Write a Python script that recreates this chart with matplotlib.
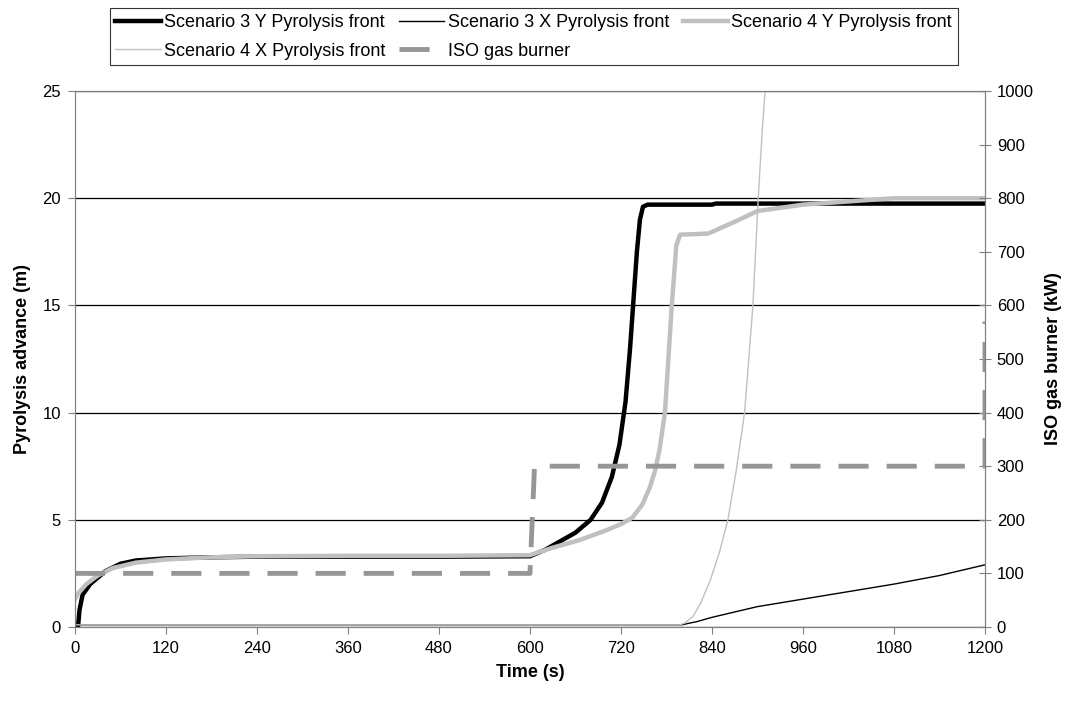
import matplotlib

matplotlib.use("Agg")

import matplotlib.pyplot as plt
import numpy as np

plt.rcParams["font.family"] = ["Liberation Sans", "DejaVu Sans"]
plt.rcParams["font.size"] = 12

# Scenario 3, Y direction pyrolysis front (m)
s3y_t = [4, 6, 10, 20, 40, 60, 80, 120, 180, 240, 360, 480, 600, 620, 640, 660,
         680, 695, 708, 718, 726, 732, 737, 741, 745, 749, 755, 840, 845, 1200]
s3y_v = [0.0, 0.8, 1.5, 2.0, 2.6, 2.95, 3.1, 3.2, 3.25, 3.28, 3.28, 3.28, 3.3, 3.6,
         4.0, 4.4, 5.0, 5.8, 7.0, 8.5, 10.5, 13.0, 15.5, 17.5, 19.0, 19.6, 19.7,
         19.7, 19.75, 19.75]

# Scenario 3, X direction pyrolysis front (m)
s3x_t = [0, 200, 400, 600, 800, 820, 840, 870, 900, 960, 1020, 1080, 1140, 1200]
s3x_v = [0.1, 0.1, 0.1, 0.1, 0.1, 0.25, 0.45, 0.7, 0.95, 1.3, 1.65, 2.0, 2.4, 2.9]

# Scenario 4, Y direction pyrolysis front (m)
s4y_t = [0, 5, 15, 30, 50, 80, 120, 180, 240, 360, 480, 600, 630, 665, 700, 720,
         735, 748, 758, 765, 771, 778, 787, 793, 798, 835, 870, 900, 960, 1020,
         1080, 1200]
s4y_v = [1.3, 1.6, 2.0, 2.4, 2.75, 3.0, 3.15, 3.25, 3.3, 3.32, 3.32, 3.35, 3.7,
         4.05, 4.5, 4.8, 5.1, 5.7, 6.5, 7.3, 8.3, 10.0, 15.0, 17.8, 18.3, 18.35,
         18.9, 19.4, 19.7, 19.85, 20.0, 20.0]

# Scenario 4, X direction pyrolysis front (m)
s4x_t = [0, 200, 400, 600, 798, 805, 815, 825, 838, 850, 861, 872, 883, 894, 901,
         906, 912, 920]
s4x_v = [0.1, 0.1, 0.1, 0.1, 0.1, 0.2, 0.5, 1.1, 2.2, 3.5, 5.0, 7.3, 10.0, 15.0,
         20.0, 23.0, 26.0, 30.0]

# ISO gas burner output (kW)
burner_t = [0, 600, 606, 1200, 1200]
burner_kw = [100, 100, 300, 300, 570]

x_ticks = np.arange(0, 1201, 120)

fig = plt.figure(figsize=(10.74, 7.04), dpi=100)
ax = fig.add_axes([0.0698, 0.1094, 0.8473, 0.7613])
ax2 = ax.twinx()

grey_light = "#c0c0c0"
grey_dash = "#969696"

l1, = ax.plot(s3y_t, s3y_v, color="black", lw=3.2, label="Scenario 3 Y Pyrolysis front",
              solid_joinstyle="round")
l2, = ax.plot(s3x_t, s3x_v, color="black", lw=1.0, label="Scenario 3 X Pyrolysis front")
l3, = ax.plot(s4y_t, s4y_v, color=grey_light, lw=3.2, label="Scenario 4 Y Pyrolysis front",
              solid_joinstyle="round")
l4, = ax.plot(s4x_t, s4x_v, color=grey_light, lw=1.0, label="Scenario 4 X Pyrolysis front")
l5, = ax2.plot(burner_t, burner_kw, color=grey_dash, lw=3.5, dashes=(6.2, 3.7),
               label="ISO gas burner")

ax.set_xlim(0, 1200)
ax.set_ylim(0, 25)
ax2.set_ylim(0, 1000)
ax.set_xticks(x_ticks)
ax.set_yticks(np.arange(0, 26, 5))
ax2.set_yticks(np.arange(0, 1001, 100))

ax.yaxis.grid(True, color="black", lw=0.9)
ax.set_axisbelow(True)

for side in ("left", "bottom", "right", "top"):
    ax.spines[side].set_color("#808080")
    ax2.spines[side].set_color("#808080")
ax.tick_params(axis="both", direction="out", length=5, color="#808080",
               labelsize=12, pad=5)
ax2.tick_params(axis="y", direction="inout", length=9, color="#808080",
                labelsize=12, pad=4)

ax.set_xlabel("Time (s)", fontsize=13, fontweight="bold", labelpad=6)
ax.set_ylabel("Pyrolysis advance (m)", fontsize=13, fontweight="bold", labelpad=8)
ax2.set_ylabel("ISO gas burner (kW)", fontsize=13, fontweight="bold", labelpad=8)

# reorder so the legend reads row by row over three columns
handles = [l1, l4, l2, l5, l3]
leg = fig.legend(handles=handles, labels=[h.get_label() for h in handles],
                 loc="upper left", bbox_to_anchor=(0.1024, 0.988), ncol=3,
                 frameon=True, fancybox=False, edgecolor="black",
                 fontsize=13, handlelength=2.5, handletextpad=0.2,
                 columnspacing=0.75, borderpad=0.3, labelspacing=0.65,
                 borderaxespad=0)
leg.get_frame().set_linewidth(0.8)

fig.savefig("out.png", dpi=100)
plt.close(fig)
